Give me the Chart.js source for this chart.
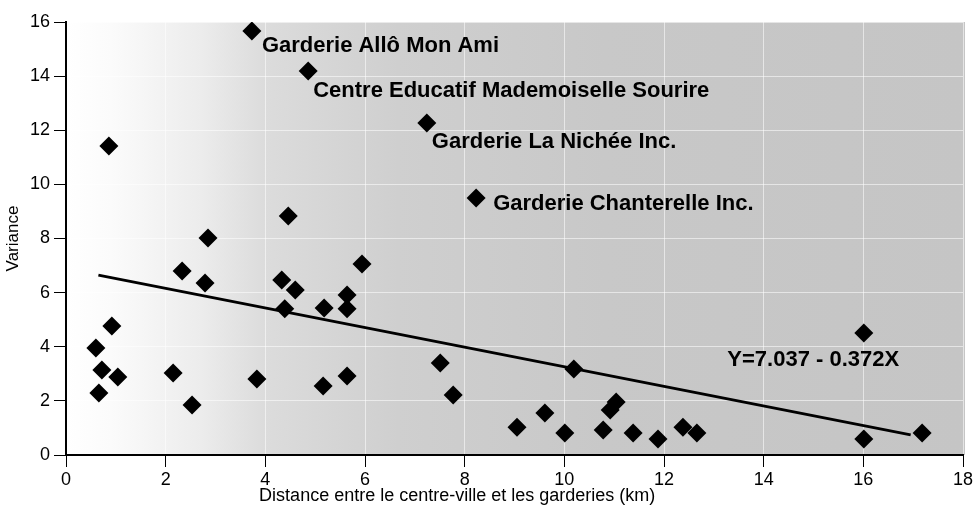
<!DOCTYPE html>
<html>
<head>
<meta charset="utf-8">
<script src="https://cdn.jsdelivr.net/npm/chart.js@4/dist/chart.umd.min.js"></script>
<style>
  html, body { margin: 0; padding: 0; background: #fff; }
  #wrap { width: 980px; height: 512px; }
</style>
</head>
<body>
<div id="wrap"><canvas id="chart"></canvas></div>
<script>
// garderies sans étiquette
const distance = [0.86, 2.85, 4.46, 2.33, 2.79, 4.33, 4.60, 4.39, 5.18, 5.64, 5.64, 5.94,
    0.92, 0.60, 0.72, 1.04, 0.66, 2.15, 2.53, 3.83, 5.16, 5.64, 7.51, 7.77,
    9.05, 9.61, 10.01, 10.19, 10.78, 10.92, 11.04, 11.38, 11.88, 12.38, 12.66,
    16.01, 16.01, 17.18];
const variance = [11.42, 8.02, 8.83, 6.80, 6.36, 6.47, 6.10, 5.40, 5.43, 5.91, 5.40, 7.06,
    4.77, 3.95, 3.14, 2.88, 2.29, 3.03, 1.85, 2.81, 2.55, 2.92, 3.40, 2.22,
    1.03, 1.55, 0.81, 3.18, 0.92, 1.66, 1.96, 0.81, 0.59, 1.03, 0.81,
    4.51, 0.59, 0.81];

// garderies nommées
const garderies = ['Garderie Allô Mon Ami', 'Centre Educatif Mademoiselle Sourire',
    'Garderie La Nichée Inc.', 'Garderie Chanterelle Inc.'];
const garderieDistance = [3.73, 4.86, 7.24, 8.23];
const garderieVariance = [15.67, 14.19, 12.27, 9.50];

// droite de régression
const fitDistance = [0.65, 16.95];
const fitVariance = [6.65, 0.74];
const equation = 'Y=7.037 - 0.372X';
const equationAt = [13.27, 3.3];

const xTicks = [0, 2, 4, 6, 8, 10, 12, 14, 16, 18];
const yTicks = [0, 2, 4, 6, 8, 10, 12, 14, 16];
const xTitle = 'Distance entre le centre-ville et les garderies (km)';
const xTitleCenter = 7.85;

const FONT = "'Liberation Sans', Arial, Helvetica, sans-serif";

// decalage des etiquettes par rapport au losange (px)
const labelOffsets = [[10, 21], [5, 26], [5, 25], [17, 12]];

const backgroundPlugin = {
    id: 'fondDegrade',
    beforeDraw(chart) {
        const { ctx, chartArea: a } = chart;
        const g = ctx.createLinearGradient(a.left, 0, a.right, 0);
        g.addColorStop(0, '#ffffff');
        g.addColorStop(0.05, '#fbfbfb');
        g.addColorStop(0.15, '#ececec');
        g.addColorStop(0.22, '#dcdcdc');
        g.addColorStop(0.37, '#cfcfcf');
        g.addColorStop(0.6, '#c8c8c8');
        g.addColorStop(1, '#c5c5c5');
        ctx.save();
        ctx.fillStyle = g;
        ctx.fillRect(a.left, a.top, a.right - a.left + 2, a.bottom - a.top);
        ctx.restore();
    }
};

const labelPlugin = {
    id: 'etiquettes',
    afterDatasetsDraw(chart) {
        const { ctx } = chart;
        const meta = chart.getDatasetMeta(1);
        ctx.save();
        ctx.fillStyle = '#000';
        ctx.font = 'bold 22px ' + FONT;
        ctx.textBaseline = 'alphabetic';
        ctx.textAlign = 'left';
        meta.data.forEach((pt, i) => {
            ctx.fillText(garderies[i], pt.x + labelOffsets[i][0], pt.y + labelOffsets[i][1]);
        });
        const x = chart.scales.x.getPixelForValue(equationAt[0]);
        const y = chart.scales.y.getPixelForValue(equationAt[1]);
        ctx.fillText(equation, x, y);

        // titre de l'axe x, centré comme sur l'original
        ctx.font = '18px ' + FONT;
        ctx.textAlign = 'center';
        ctx.textBaseline = 'middle';
        ctx.fillText(xTitle, chart.scales.x.getPixelForValue(xTitleCenter), 496);
        ctx.restore();
    }
};

const ctx = document.getElementById('chart').getContext('2d');
new Chart(ctx, {
    type: 'scatter',
    data: {
        datasets: [
            {
                label: 'Garderies',
                data: distance.map((d, i) => ({ x: d, y: variance[i] })),
                pointStyle: 'rectRot',
                pointRadius: 9.5,
                pointBackgroundColor: '#000',
                pointBorderWidth: 0,
                borderWidth: 0
            },
            {
                label: 'Garderies nommées',
                data: garderieDistance.map((d, i) => ({ x: d, y: garderieVariance[i] })),
                pointStyle: 'rectRot',
                pointRadius: 9.5,
                pointBackgroundColor: '#000',
                pointBorderWidth: 0,
                borderWidth: 0
            },
            {
                type: 'line',
                label: 'Régression',
                data: fitDistance.map((d, i) => ({ x: d, y: fitVariance[i] })),
                borderColor: '#000',
                borderWidth: 2.8,
                pointRadius: 0,
                fill: false
            }
        ]
    },
    options: {
        responsive: true,
        maintainAspectRatio: false,
        animation: false,
        layout: { padding: { top: 22, right: 17, left: 0, bottom: 0 } },
        plugins: {
            legend: { display: false },
            tooltip: { enabled: false }
        },
        scales: {
            x: {
                type: 'linear',
                min: 0,
                max: 18,
                afterBuildTicks: (s) => { s.ticks = xTicks.map(v => ({ value: v })); },
                afterFit: (s) => { s.height = 57; },
                border: { display: true, color: '#000', width: 2 },
                grid: { color: 'rgba(255,255,255,0.55)', tickColor: '#000', tickLength: 12, lineWidth: 1 },
                ticks: { color: '#000', font: { family: FONT, size: 18 }, padding: 2, maxRotation: 0 },
                title: { display: false }
            },
            y: {
                type: 'linear',
                min: 0,
                max: 16,
                afterBuildTicks: (s) => { s.ticks = yTicks.map(v => ({ value: v })); },
                afterFit: (s) => { s.width = 66; },
                border: { display: true, color: '#000', width: 2 },
                grid: { color: 'rgba(255,255,255,0.55)', tickColor: '#000', tickLength: 12, lineWidth: 1 },
                ticks: { color: '#000', font: { family: FONT, size: 18 }, padding: 4 },
                title: {
                    display: true,
                    text: 'Variance',
                    color: '#000',
                    font: { family: FONT, size: 17 },
                    padding: { top: 3, bottom: 0 }
                }
            }
        }
    },
    plugins: [backgroundPlugin, labelPlugin]
});
</script>
</body>
</html>
